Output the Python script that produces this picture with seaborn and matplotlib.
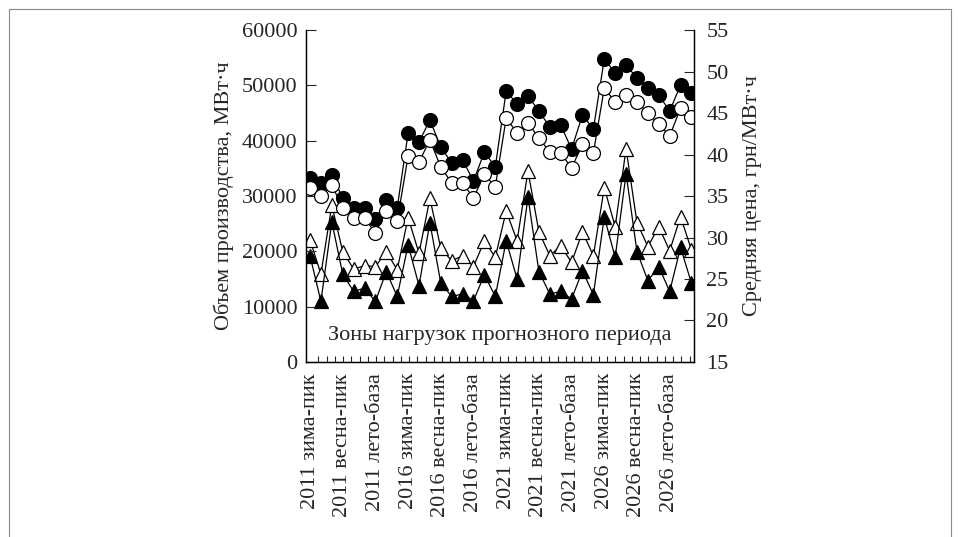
import numpy as np
import pandas as pd
import matplotlib
matplotlib.use("Agg")
import matplotlib.pyplot as plt
from matplotlib.ticker import MultipleLocator
from matplotlib.lines import Line2D
import seaborn as sns

# ---- data ----
years = ["2011", "2016", "2021", "2026"]
zone_labels = ["зима-пик", "весна-пик", "лето-база"]

volume_filled = [33300, 32350, 33800, 29640, 27830, 27830, 25840, 29280, 27830,
                 41380, 39760, 43730, 38850, 35960, 36500, 32710, 37950, 35240,
                 48980, 46630, 48070, 45360, 42470, 42830, 38490, 44640, 42110,
                 54760, 52230, 53670, 51320, 49520, 48250, 45360, 50060, 48610]
volume_open = [31450, 30000, 31990, 27830, 26020, 26020, 23310, 27290, 25480,
               37230, 36140, 40120, 35240, 32350, 32350, 29640, 33980, 31630,
               44100, 41380, 43190, 40480, 37950, 37770, 35060, 39400, 37770,
               49520, 46990, 48250, 46990, 45000, 43010, 40840, 45900, 44280]
price_open = [29.7, 25.6, 33.9, 28.3, 26.2, 26.6, 26.5, 28.3, 26.1,
              32.4, 28.1, 34.7, 28.7, 27.2, 27.8, 26.5, 29.6, 27.6,
              33.2, 29.6, 38.0, 30.7, 27.8, 29.0, 27.0, 30.7, 27.8,
              36.0, 31.3, 40.7, 31.8, 28.9, 31.3, 28.4, 32.5, 28.5]
price_filled = [27.8, 22.3, 31.9, 25.6, 23.5, 23.9, 22.3, 25.9, 22.9,
                29.1, 24.2, 31.8, 24.5, 22.9, 23.2, 22.4, 25.5, 22.9,
                29.6, 25.0, 34.9, 25.9, 23.2, 23.5, 22.6, 26.0, 23.1,
                32.5, 27.6, 37.7, 28.3, 24.8, 26.5, 23.5, 28.8, 24.5]

left_label = "Объем производства, МВт·ч"
right_label = "Средняя цена, грн/МВт·ч"
inner_text = "Зоны нагрузок прогнозного периода"

n = len(volume_filled)
idx = np.arange(n)
df = pd.DataFrame({"idx": idx, "vf": volume_filled, "vo": volume_open,
                   "po": price_open, "pf": price_filled})

tick_pos = idx[::3]
tick_lab = [f"{y} {z}" for y in years for z in zone_labels]

# ---- style ----
sns.set_style("ticks")
plt.rcParams["font.family"] = ["Liberation Serif", "DejaVu Serif"]

fig = plt.figure(figsize=(9.58, 5.37), dpi=100)
ax = fig.add_axes([0.3194, 0.3259, 0.4050, 0.6182])
ax2 = ax.twinx()

lw = 0.9
mew = 0.9
# right axis: triangles
sns.lineplot(data=df, x="idx", y="po", ax=ax2, color="black", lw=lw,
             marker="^", markersize=10, markerfacecolor="white",
             markeredgecolor="black", markeredgewidth=mew)
sns.lineplot(data=df, x="idx", y="pf", ax=ax2, color="black", lw=lw,
             marker="^", markersize=10, markerfacecolor="black",
             markeredgecolor="black", markeredgewidth=mew)
# left axis: circles
sns.lineplot(data=df, x="idx", y="vf", ax=ax, color="black", lw=lw,
             marker="o", markersize=10, markerfacecolor="black",
             markeredgecolor="black", markeredgewidth=mew)
sns.lineplot(data=df, x="idx", y="vo", ax=ax, color="black", lw=lw,
             marker="o", markersize=10, markerfacecolor="white",
             markeredgecolor="black", markeredgewidth=mew)

ax.set_zorder(ax2.get_zorder() + 1)
ax.patch.set_visible(False)

ax.set_xlim(-0.37, 35.23)
ax.set_ylim(0, 60000)
ax2.set_ylim(15, 55)
ax.set_yticks(np.arange(0, 60001, 10000))
ax2.set_yticks(np.arange(15, 56, 5))

ax.set_xticks(tick_pos)
ax.set_xticklabels(tick_lab, rotation=90, fontsize=16)
ax.xaxis.set_minor_locator(MultipleLocator(0.757))
ax.tick_params(axis="x", which="major", length=0, pad=8)
ax.tick_params(axis="x", which="minor", direction="in", length=4, width=0.8)
ax.tick_params(axis="y", which="major", direction="in", length=7, width=0.8,
               labelsize=16, pad=6)
ax2.tick_params(axis="y", which="major", direction="in", length=7, width=0.8,
                labelsize=16, pad=9)

ax.set_xlabel("")
ax.set_ylabel(left_label, fontsize=16, labelpad=6)
ax2.set_xlabel("")
ax2.set_ylabel(right_label, fontsize=16, labelpad=10)

for a in (ax, ax2):
    a.spines["top"].set_visible(False)
    for s in ("left", "right", "bottom"):
        a.spines[s].set_linewidth(0.9)
        a.spines[s].set_color("black")

ax.text(0.5, 0.081, inner_text, transform=ax.transAxes, ha="center",
        va="center", fontsize=16)

# thin page frame around the figure (left, top, right)
W, H = 958.0, 537.0
fx0, fx1, fy1 = 8.5 / W, 950.5 / W, 1 - 8.5 / H
frame_col = "#8a8a8a"
fig.add_artist(Line2D([fx0, fx0], [0, fy1], transform=fig.transFigure,
                      color=frame_col, lw=0.8))
fig.add_artist(Line2D([fx0, fx1], [fy1, fy1], transform=fig.transFigure,
                      color=frame_col, lw=0.8))
fig.add_artist(Line2D([fx1, fx1], [0, fy1], transform=fig.transFigure,
                      color=frame_col, lw=0.8))

fig.savefig("out.png", dpi=100, facecolor="white")
